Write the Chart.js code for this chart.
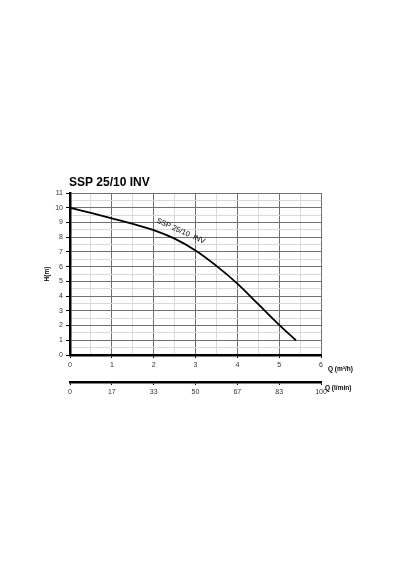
<!DOCTYPE html>
<html>
<head>
<meta charset="utf-8">
<script src="https://cdn.jsdelivr.net/npm/chart.js@4/dist/chart.umd.min.js"></script>
<style>
  html, body { margin: 0; padding: 0; background: #fff; }
  canvas { display: block; }
</style>
</head>
<body>
<canvas id="pump" width="400" height="570"></canvas>
<script>
// pump curve (Q in m3/h, H in m)
const flowM3h = [0, 0.5, 1, 1.5, 2, 2.5, 3, 3.5, 4, 4.5, 5, 5.4];
const headM = [10, 9.65, 9.28, 8.9, 8.48, 7.9, 7.1, 6.05, 4.85, 3.45, 2.05, 1.0];
const lpmLabels = ["0", "17", "33", "50", "67", "83", "100"];
const chartTitle = "SSP 25/10 INV";
const curveName = "SSP 25/10  INV";

const FONT = '"Liberation Sans", Arial, sans-serif';
const COLORS = {
  ink: "#000",
  text: "#333",
  major: "#707070",
  minor: "#dadada",
};

const isMajor = (v) => Math.abs(v - Math.round(v)) < 1e-6;

// title, axis units and the in-plot curve name
const annotations = {
  id: "annotations",
  afterDraw(chart) {
    const { ctx, chartArea, scales } = chart;
    const x = scales.x;
    const y = scales.y;
    ctx.save();

    ctx.fillStyle = COLORS.ink;
    ctx.font = "bold 12px " + FONT;
    ctx.textBaseline = "alphabetic";
    ctx.textAlign = "left";
    ctx.fillText(chartTitle, chartArea.left - 1, chartArea.top - 7);

    ctx.font = "bold 6.5px " + FONT;
    ctx.textBaseline = "middle";
    ctx.fillText("Q (m\u00B3/h)", chartArea.right + 7, chartArea.bottom + 14);
    ctx.fillText("Q (l/min)", chartArea.right + 4, scales.x2.top + 6);

    // curve name laid along the curve between Q=2 and Q=3
    const p1 = { x: x.getPixelForValue(flowM3h[4]), y: y.getPixelForValue(headM[4]) };
    const p2 = { x: x.getPixelForValue(flowM3h[6]), y: y.getPixelForValue(headM[6]) };
    const ang = Math.atan2(p2.y - p1.y, p2.x - p1.x) - 0.03;
    const mx = (p1.x + p2.x) / 2 + 2;
    const my = (p1.y + p2.y) / 2;
    ctx.translate(mx + Math.sin(ang) * 8, my - Math.cos(ang) * 8);
    ctx.rotate(ang);
    ctx.font = "7.5px " + FONT;
    ctx.textAlign = "center";
    ctx.textBaseline = "alphabetic";
    ctx.fillText(curveName, 0, 0);

    ctx.restore();
  },
};

new Chart(document.getElementById("pump"), {
  type: "line",
  data: {
    datasets: [
      {
        data: flowM3h.map((q, i) => ({ x: q, y: headM[i] })),
        borderColor: COLORS.ink,
        borderWidth: 1.8,
        pointRadius: 0,
        tension: 0.4,
        fill: false,
      },
    ],
  },
  options: {
    responsive: false,
    animation: false,
    layout: { padding: { left: 39, right: 79, top: 193, bottom: 168 } },
    plugins: { legend: { display: false }, tooltip: { enabled: false } },
    scales: {
      x: {
        type: "linear",
        position: "bottom",
        min: 0,
        max: 6,
        afterFit: (s) => { s.height = 27; },
        ticks: {
          stepSize: 0.5,
          autoSkip: false,
          maxRotation: 0,
          padding: 3,
          color: COLORS.text,
          font: { family: FONT, size: 7 },
          callback: (v) => (isMajor(v) ? String(v) : ""),
        },
        grid: {
          color: (c) => (isMajor(c.tick.value) ? COLORS.major : COLORS.minor),
          lineWidth: 1,
          tickLength: 3,
          tickColor: (c) => (isMajor(c.tick.value) ? COLORS.ink : "rgba(0,0,0,0)"),
        },
        border: { color: COLORS.ink, width: 2.5 },
      },
      x2: {
        type: "linear",
        position: "bottom",
        min: 0,
        max: 6,
        afterFit: (s) => { s.height = 20; },
        ticks: {
          stepSize: 1,
          autoSkip: false,
          maxRotation: 0,
          padding: 3,
          color: COLORS.text,
          font: { family: FONT, size: 7 },
          callback: (v, i) => lpmLabels[i],
        },
        grid: {
          drawOnChartArea: false,
          tickLength: 3,
          tickColor: COLORS.ink,
          lineWidth: 1,
        },
        border: { color: COLORS.ink, width: 2.5 },
      },
      y: {
        type: "linear",
        min: 0,
        max: 11,
        afterFit: (s) => { s.width = 31; },
        ticks: {
          stepSize: 0.5,
          autoSkip: false,
          padding: 3,
          color: COLORS.text,
          font: { family: FONT, size: 7 },
          callback: (v) => (isMajor(v) ? String(v) : ""),
        },
        grid: {
          color: (c) => (isMajor(c.tick.value) ? COLORS.major : COLORS.minor),
          lineWidth: 1,
          tickLength: 4,
          tickColor: (c) => (isMajor(c.tick.value) ? COLORS.ink : "rgba(0,0,0,0)"),
        },
        border: { color: COLORS.ink, width: 2.5 },
        title: {
          display: true,
          text: "H(m)",
          color: COLORS.ink,
          font: { family: FONT, size: 6.5, weight: "bold" },
          padding: { top: 4, bottom: 0 },
        },
      },
    },
  },
  plugins: [annotations],
});
</script>
</body>
</html>
